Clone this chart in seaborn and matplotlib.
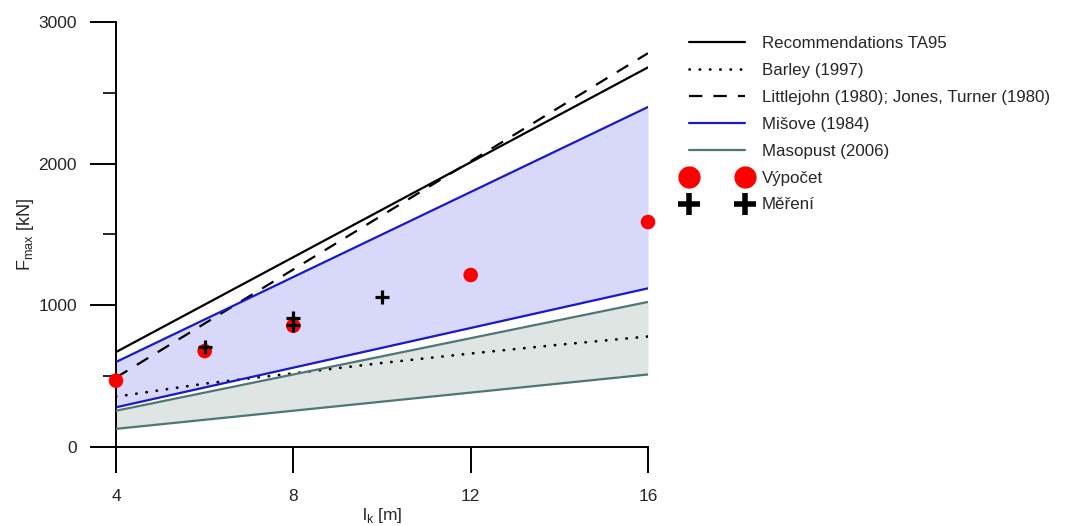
import matplotlib
matplotlib.use('Agg')
import matplotlib.pyplot as plt
from matplotlib.lines import Line2D
import seaborn as sns

# pile length l_k [m] and max force F_max [kN]
l_k = [4, 16]
ta95 = [670, 2680]
littlejohn = [490, 2780]
misove_low = [280, 1120]
misove_high = [600, 2400]
masopust_low = [128, 512]
masopust_high = [256, 1024]

barley_l = [4, 6, 8, 10, 12, 14, 16]
barley = [355, 447, 520, 593, 660, 722, 780]

calc_l = [4, 6, 8, 12, 16]
calc_F = [468, 677, 856, 1214, 1588]

meas_l = [6, 8, 8, 10]
meas_F = [705, 910, 862, 1061]

labels = ['Recommendations TA95', 'Barley (1997)',
          'Littlejohn (1980); Jones, Turner (1980)', 'Mišove (1984)',
          'Masopust (2006)', 'Výpočet', 'Měření']

BLUE = '#1818cc'
BLUE_FILL = '#d8d8fb'
TEAL = '#4e7674'
TEAL_FILL = '#dee5e3'
DOTS = (0, (0.1, 3.6))
DASHES = (0, (6, 5))

sns.set_style('ticks')
plt.rcParams['font.family'] = ['Liberation Sans', 'DejaVu Sans']

fig = plt.figure(figsize=(10.66, 5.26), dpi=100)
ax = fig.add_axes([0.1088, 0.1502, 0.4991, 0.808])

# shaded ranges
ax.fill_between(l_k, misove_low, misove_high, color=BLUE_FILL, lw=0, zorder=1)
ax.fill_between(l_k, masopust_low, masopust_high, color=TEAL_FILL, lw=0, zorder=1)

lw = 1.6
sns.lineplot(x=l_k, y=ta95, ax=ax, color='black', lw=lw, zorder=3)
sns.lineplot(x=barley_l, y=barley, ax=ax, color='black', lw=2, zorder=3,
             linestyle=DOTS, dash_capstyle='round')
sns.lineplot(x=l_k, y=littlejohn, ax=ax, color='black', lw=lw, zorder=3,
             linestyle=DASHES)
sns.lineplot(x=l_k, y=misove_low, ax=ax, color=BLUE, lw=lw, zorder=3)
sns.lineplot(x=l_k, y=misove_high, ax=ax, color=BLUE, lw=lw, zorder=3)
sns.lineplot(x=l_k, y=masopust_low, ax=ax, color=TEAL, lw=lw, zorder=3)
sns.lineplot(x=l_k, y=masopust_high, ax=ax, color=TEAL, lw=lw, zorder=3)

sns.scatterplot(x=calc_l, y=calc_F, ax=ax, color='#ff0000', s=110,
                edgecolor='none', zorder=4, clip_on=False)
sns.scatterplot(x=meas_l, y=meas_F, ax=ax, color='black', marker='+', s=110,
                linewidth=2.3, zorder=5, clip_on=False)

ax.set_xlim(4, 16)
ax.set_ylim(0, 3000)
ax.set_xticks([4, 8, 12, 16])
ax.set_yticks([0, 1000, 2000, 3000])
ax.set_yticks([500, 1500, 2500], minor=True)
ax.tick_params(which='major', length=19, width=1.4, labelsize=12.5, color='black')
ax.tick_params(which='minor', length=9.5, width=1.4)
ax.tick_params(axis='x', pad=11)
ax.tick_params(axis='y', pad=9)
sns.despine(ax=ax)
for side in ['left', 'bottom']:
    ax.spines[side].set_linewidth(1.4)
    ax.spines[side].set_color('black')

ax.set_xlabel(r'l$_\mathregular{k}$ [m]', fontsize=12.5)
ax.set_ylabel(r'F$_\mathregular{max}$ [kN]', fontsize=13)
ax.xaxis.set_label_coords(0.5, -0.139)
ax.yaxis.set_label_coords(-0.150, 0.5)

handles = [
    Line2D([], [], color='black', lw=lw),
    Line2D([], [], color='black', lw=2, linestyle=DOTS, dash_capstyle='round'),
    Line2D([], [], color='black', lw=lw, linestyle=DASHES),
    Line2D([], [], color=BLUE, lw=lw),
    Line2D([], [], color=TEAL, lw=lw),
    Line2D([], [], color='#ff0000', marker='o', ms=16, lw=0, mec='none'),
    Line2D([], [], color='black', marker='+', ms=16, mew=4, lw=0),
]
fig.legend(handles, labels, loc='upper left', bbox_to_anchor=(0.6417, 0.931),
           frameon=False, fontsize=12.2, numpoints=2, handlelength=3.9,
           handletextpad=0.7, labelspacing=0.7, borderpad=0, borderaxespad=0)

fig.savefig('out.png', dpi=100)
